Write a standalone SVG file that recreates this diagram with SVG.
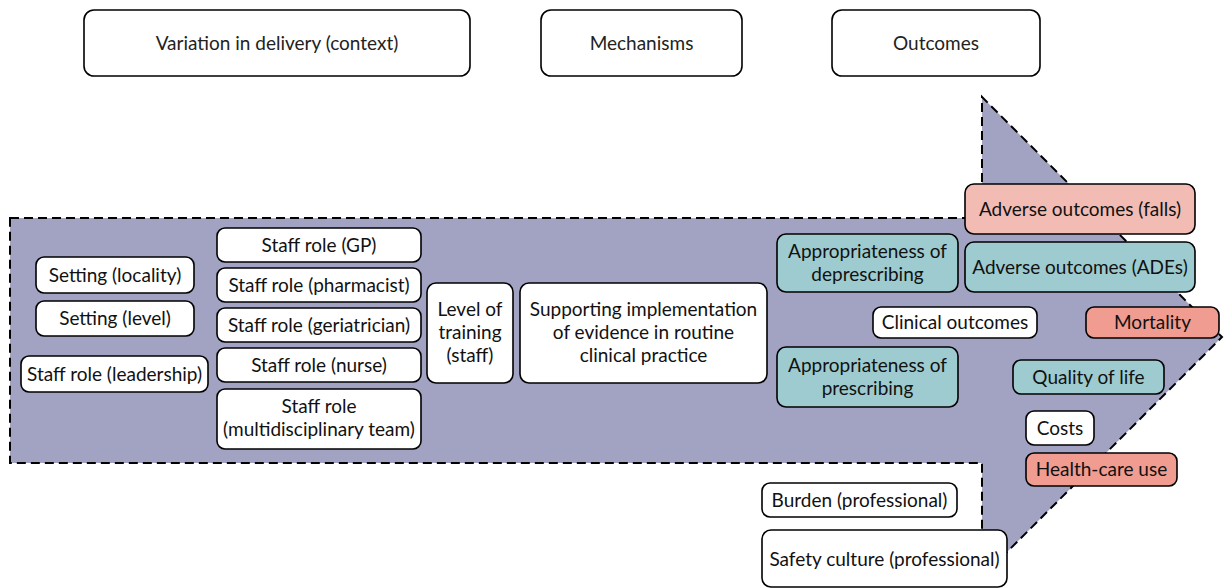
<svg xmlns="http://www.w3.org/2000/svg" width="1224" height="588" viewBox="0 0 1224 588">
<style>
.n{stroke:#000;stroke-width:1.6}
.w{fill:#fff}
.t{fill:#9dcbcf}
.p{fill:#f2bcb4}
.r{fill:#f09c90}
text{font-family:Lato,"Noto Sans","Liberation Sans",sans-serif;font-size:19px;fill:#111;text-anchor:middle}
.h{fill:#222}
</style>
<g id="arrow">
<path d="M10,218 L982,218 L982,97 L1222,337 L982,577 L982,463 L10,463 Z" fill="#a2a3c2" stroke="#000" stroke-width="2" stroke-dasharray="9,5"/>
</g>
<g id="connectors"></g>
<g id="h1"><rect class="n w" x="84" y="10" width="386" height="66" rx="10"/><text class="h" x="277" y="50">Variation in delivery (context)</text></g>
<g id="h2"><rect class="n w" x="541" y="10" width="201" height="66" rx="10"/><text class="h" x="641.5" y="50">Mechanisms</text></g>
<g id="h3"><rect class="n w" x="832" y="10" width="208" height="66" rx="10"/><text class="h" x="936" y="50">Outcomes</text></g>

<g id="n1"><rect class="n w" x="36" y="257" width="158" height="36" rx="8"/><text x="115" y="282">Setting (locality)</text></g>
<g id="n2"><rect class="n w" x="36" y="301" width="158" height="35" rx="8"/><text x="115" y="325">Setting (level)</text></g>
<g id="n3"><rect class="n w" x="21" y="356" width="187" height="36" rx="8"/><text x="114.5" y="381">Staff role (leadership)</text></g>

<g id="n4"><rect class="n w" x="217" y="228" width="204" height="34" rx="8"/><text x="319" y="252">Staff role (GP)</text></g>
<g id="n5"><rect class="n w" x="217" y="268" width="204" height="34" rx="8"/><text x="319" y="292">Staff role (pharmacist)</text></g>
<g id="n6"><rect class="n w" x="217" y="308" width="204" height="34" rx="8"/><text x="319" y="332">Staff role (geriatrician)</text></g>
<g id="n7"><rect class="n w" x="217" y="348" width="204" height="34" rx="8"/><text x="319" y="372">Staff role (nurse)</text></g>
<g id="n8"><rect class="n w" x="217" y="389" width="204" height="60" rx="8"/><text x="319" y="413">Staff role</text><text x="319" y="436">(multidisciplinary team)</text></g>

<g id="n9"><rect class="n w" x="427" y="283" width="86" height="100" rx="9"/><text x="470" y="316">Level of</text><text x="470" y="339">training</text><text x="470" y="362">(staff)</text></g>
<g id="n10"><rect class="n w" x="520" y="283" width="247" height="100" rx="9"/><text x="643.5" y="316">Supporting implementation</text><text x="643.5" y="339">of evidence in routine</text><text x="643.5" y="362">clinical practice</text></g>

<g id="n11"><rect class="n t" x="777" y="234" width="181" height="58" rx="9"/><text x="867.5" y="258">Appropriateness of</text><text x="867.5" y="281">deprescribing</text></g>
<g id="n12"><rect class="n t" x="777" y="347" width="181" height="60" rx="9"/><text x="867.5" y="372">Appropriateness of</text><text x="867.5" y="395">prescribing</text></g>

<g id="n13"><rect class="n p" x="965" y="184" width="230" height="50" rx="9"/><text x="1080" y="216">Adverse outcomes (falls)</text></g>
<g id="n14"><rect class="n t" x="965" y="242" width="230" height="50" rx="9"/><text x="1080" y="274">Adverse outcomes (ADEs)</text></g>
<g id="n15"><rect class="n w" x="873" y="307" width="164" height="31" rx="8"/><text x="955" y="329">Clinical outcomes</text></g>
<g id="n16"><rect class="n r" x="1086" y="307" width="133" height="31" rx="8"/><text x="1152.5" y="329">Mortality</text></g>
<g id="n17"><rect class="n t" x="1013" y="360" width="151" height="34" rx="8"/><text x="1088.5" y="384">Quality of life</text></g>
<g id="n18"><rect class="n w" x="1026" y="411" width="68" height="34" rx="8"/><text x="1060" y="435">Costs</text></g>
<g id="n19"><rect class="n r" x="1026" y="453" width="151" height="33" rx="8"/><text x="1101.5" y="476">Health-care use</text></g>
<g id="n20"><rect class="n w" x="762" y="483" width="195" height="34" rx="8"/><text x="859.5" y="507">Burden (professional)</text></g>
<g id="n21"><rect class="n w" x="762" y="530" width="245" height="57" rx="9"/><text x="884.5" y="566">Safety culture (professional)</text></g>
</svg>
